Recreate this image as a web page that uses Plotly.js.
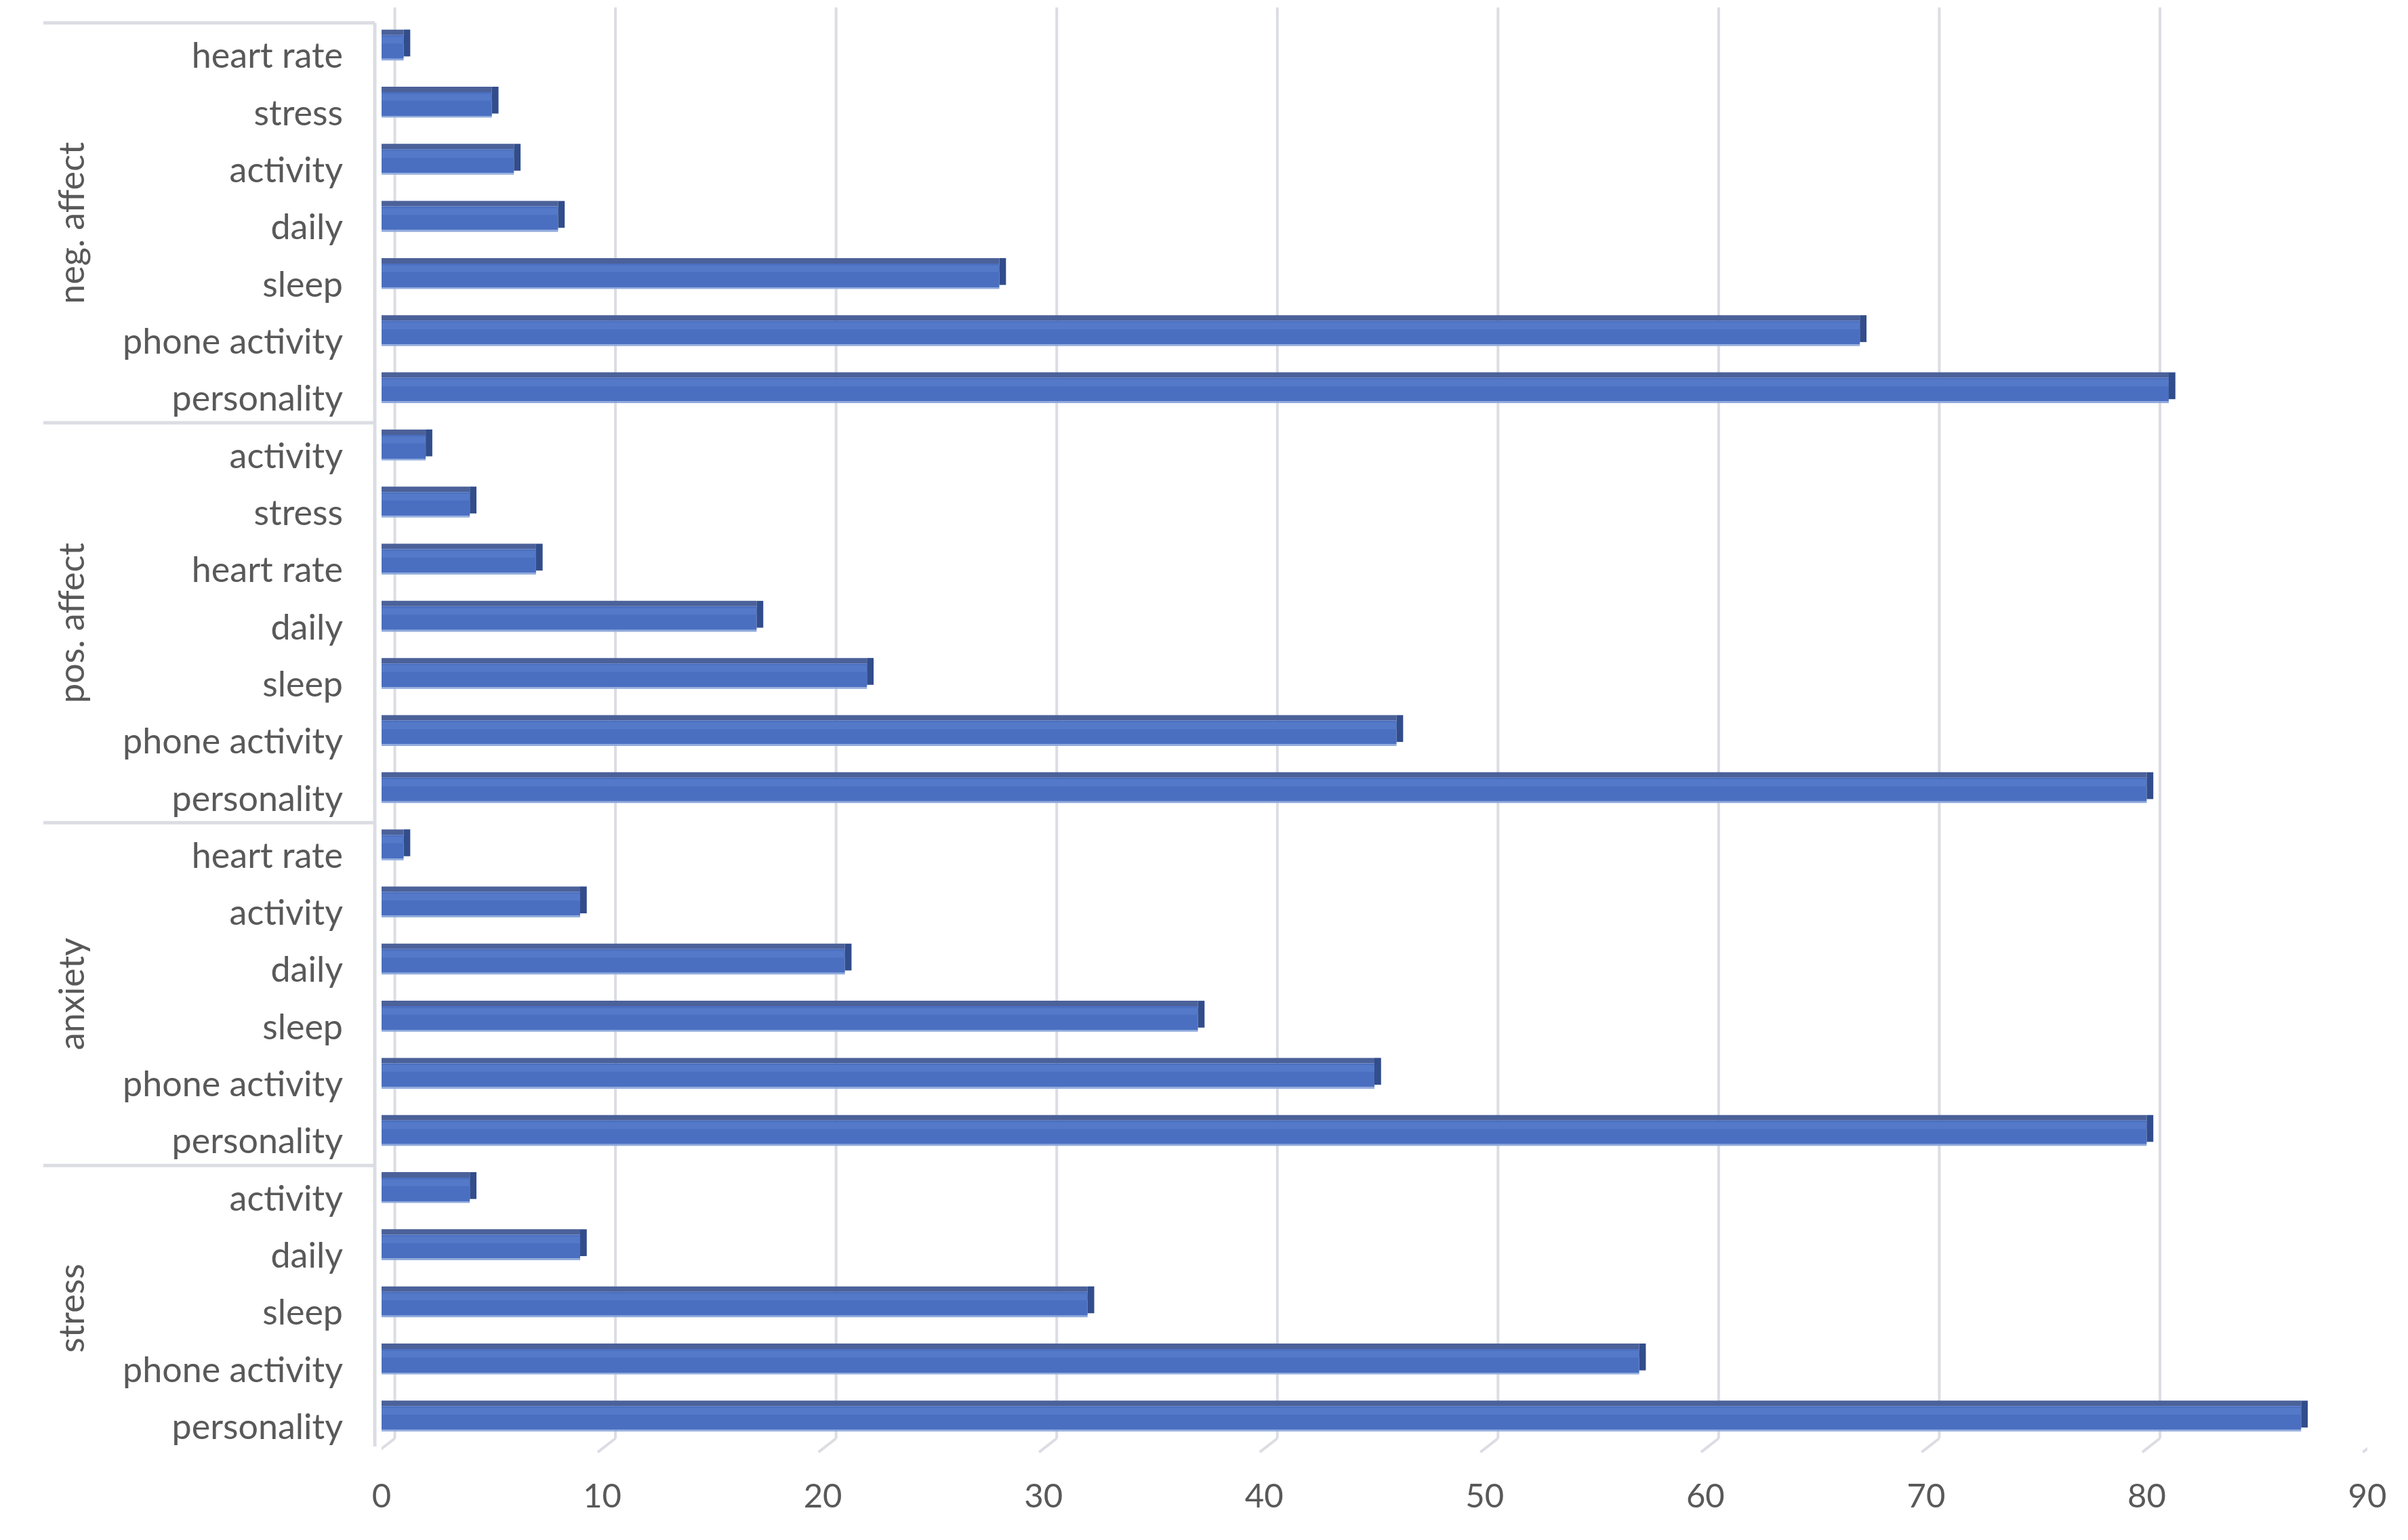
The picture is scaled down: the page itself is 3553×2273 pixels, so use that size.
<!DOCTYPE html>
<html>
<head>
<meta charset="utf-8">
<script src="https://cdn.plot.ly/plotly-3.0.1.min.js"></script>
<style>
  html, body { margin: 0; padding: 0; background: #ffffff; }
  #chart { width: 3553px; height: 2273px; }
</style>
</head>
<body>
<div id="chart"></div>
<script>
// ---- data (top to bottom) ----
const groups = ["neg. affect", "pos. affect", "anxiety", "stress"];
const negAffectFeatures = ["heart rate", "stress", "activity", "daily", "sleep", "phone activity", "personality"];
const negAffectValues   = [1, 5, 6, 8, 28, 67, 81];
const posAffectFeatures = ["activity", "stress", "heart rate", "daily", "sleep", "phone activity", "personality"];
const posAffectValues   = [2, 4, 7, 17, 22, 46, 80];
const anxietyFeatures   = ["heart rate", "activity", "daily", "sleep", "phone activity", "personality"];
const anxietyValues     = [1, 9, 21, 37, 45, 80];
const stressFeatures    = ["activity", "daily", "sleep", "phone activity", "personality"];
const stressValues      = [4, 9, 32, 57, 87];
const xTicks = [0, 10, 20, 30, 40, 50, 60, 70, 80, 90];

// ---- build flat arrays ----
const featureLists = [negAffectFeatures, posAffectFeatures, anxietyFeatures, stressFeatures];
const valueLists = [negAffectValues, posAffectValues, anxietyValues, stressValues];
const keys = [], labels = [], values = [];
const groupRanges = [];
let idx = 0;
groups.forEach((g, gi) => {
  const start = idx;
  featureLists[gi].forEach((f, fi) => {
    keys.push(g + " | " + f);
    labels.push(f);
    values.push(valueLists[gi][fi]);
    idx++;
  });
  groupRanges.push([start, idx - 1]);
});
const n = keys.length;

// ---- styling constants ----
const FONT = "Lato, 'Open Sans', 'Noto Sans', sans-serif";
const TXT = "#595959";
const GRID = "#dcdde3";
const DEPTH = 0.6;        // 3-D depth shift in value units
const FRONT_W = 0.415, TOP_W = 0.095;
const labelOff = 0.08;    // 3-D vertical offset of the category frame

// ---- traces: front face, top face, side face ----
const frontFace = {
  type: "bar", orientation: "h", y: keys, x: values,
  width: FRONT_W, offset: -FRONT_W / 2,
  marker: { color: "#4a6fc1", line: { width: 0 } },
  hoverinfo: "skip", showlegend: false
};
const highlight = {
  type: "bar", orientation: "h", y: keys, x: values,
  width: 0.12, offset: -FRONT_W / 2 + 0.03,
  marker: { color: "#5479c8", line: { width: 0 } },
  hoverinfo: "skip", showlegend: false
};
const topFace = {
  type: "bar", orientation: "h", y: keys, x: values,
  width: TOP_W, offset: -FRONT_W / 2 - TOP_W,
  marker: { color: "#4b6199", line: { width: 0 } },
  hoverinfo: "skip", showlegend: false
};
const sideFace = {
  type: "bar", orientation: "h", y: keys, base: values,
  x: values.map(() => DEPTH * 0.5),
  width: FRONT_W + TOP_W - 0.04, offset: -FRONT_W / 2 - TOP_W,
  marker: { color: "#324d8c", line: { width: 0 } },
  hoverinfo: "skip", showlegend: false
};
const edgeLine = {
  type: "bar", orientation: "h", y: keys, x: values,
  width: 0.03, offset: FRONT_W / 2,
  marker: { color: "#8faadc", line: { width: 0 } },
  hoverinfo: "skip", showlegend: false
};

// ---- shapes: gridlines (back plane) with slanted feet, category frame ----
const shapes = [];
xTicks.forEach(t => {
  shapes.push({ type: "line", layer: "below", xref: "x", yref: "paper",
    x0: t + DEPTH, x1: t + DEPTH, y0: 0.0057, y1: 1.0076,
    line: { color: GRID, width: 4 } });
  shapes.push({ type: "line", layer: "below", xref: "x", yref: "paper",
    x0: t + DEPTH, x1: t - 0.2, y0: 0.0057, y1: -0.004,
    line: { color: GRID, width: 4 } });
});
const leftX0 = -0.1703, leftX1 = -0.0034;
// vertical frame line
shapes.push({ type: "line", xref: "paper", yref: "y",
  x0: leftX1, x1: leftX1, y0: -0.5 + labelOff, y1: n - 0.5 + labelOff,
  line: { color: GRID, width: 5 } });
// horizontal group dividers (top, between groups, bottom)
const dividerYs = [-0.5].concat(groupRanges.map(r => r[1] + 0.5));
dividerYs.forEach(y => {
  shapes.push({ type: "line", xref: "paper", yref: "y",
    x0: leftX0, x1: leftX1, y0: y + labelOff, y1: y + labelOff,
    line: { color: GRID, width: 5 } });
});

// ---- group label annotations ----
const annotations = groups.map((g, gi) => ({
  text: g, xref: "paper", yref: "y",
  x: -0.1567, y: (groupRanges[gi][0] + groupRanges[gi][1]) / 2 + labelOff,
  textangle: -90, showarrow: false, xanchor: "center", yanchor: "middle",
  font: { family: FONT, size: 52, color: TXT }
}));

const layout = {
  width: 3553, height: 2273,
  margin: { l: 563, r: 60, t: 27, b: 138 },
  paper_bgcolor: "#ffffff", plot_bgcolor: "#ffffff",
  barmode: "overlay",
  showlegend: false,
  xaxis: {
    range: [0, 90], tickvals: xTicks, ticktext: xTicks.map(String),
    showgrid: false, zeroline: false, showline: false, ticks: "",
    ticklabelstandoff: 40,
    tickfont: { family: FONT, size: 49, color: TXT }
  },
  yaxis: {
    type: "category", categoryorder: "array", categoryarray: keys,
    range: [n - 0.5, -0.5],
    tickvals: keys, ticktext: labels,
    showgrid: false, zeroline: false, showline: false, ticks: "",
    ticklabelstandoff: 56, ticklabelshift: -13,
    tickfont: { family: FONT, size: 52, color: TXT }
  },
  shapes: shapes,
  annotations: annotations
};

Plotly.newPlot("chart", [topFace, frontFace, highlight, edgeLine, sideFace], layout, { staticPlot: true, displayModeBar: false });
</script>
</body>
</html>
